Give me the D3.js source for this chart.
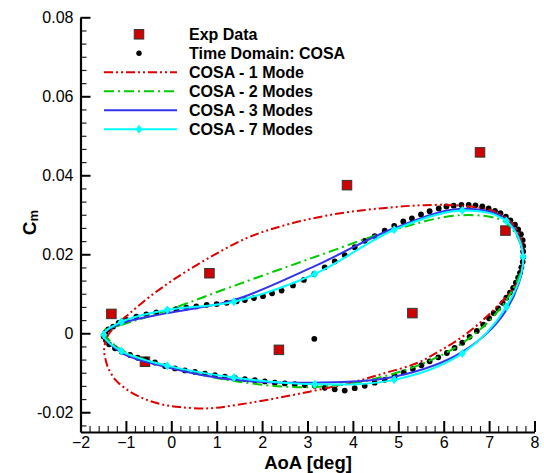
<!DOCTYPE html>
<html><head><meta charset="utf-8">
<script src="https://cdn.jsdelivr.net/npm/d3@7"></script>
<style>
body{margin:0;background:#fff}
svg{display:block}
text{font-family:"Liberation Sans",Arial,Helvetica,sans-serif;fill:#000}
</style>
</head><body>
<svg id="c" width="544" height="473"></svg>
<script>
// ---------- data ----------
const xTicks = [-2,-1,0,1,2,3,4,5,6,7,8];
const yTicks = [-0.02,0,0.02,0.04,0.06,0.08];
const yTickLabels = ["-0.02","0","0.02","0.04","0.06","0.08"];
const xTitle = "AoA [deg]";
const legendLabels = ["Exp Data","Time Domain: COSA","COSA - 1 Mode","COSA - 2 Modes","COSA - 3 Modes","COSA - 7 Modes"];

const expAoA = [-1.32,-0.58,0.84,2.37,3.87,5.31,6.80,7.36];
const expCm  = [0.0049,-0.0072,0.0152,-0.0042,0.0375,0.0051,0.0458,0.0260];

const tdAoA = [3.15,
 -1.49,-1.45,-1.39,-1.28,-1.16,-0.99,-0.77,-0.55,-0.33,-0.09,0.11,0.33,0.55,0.78,1.00,1.22,1.44,1.62,1.82,2.02,
 2.22,2.43,2.68,2.92,3.15,3.38,3.60,3.82,4.04,4.26,4.48,4.70,4.91,5.11,5.30,5.50,5.69,5.89,6.06,6.22,
 6.39,6.55,6.70,6.85,6.99,7.13,7.25,7.37,7.47,7.57,7.64,7.70,7.74,7.75,7.75,7.75,
 7.74,7.71,7.68,7.64,7.59,7.53,7.46,7.38,7.30,7.20,7.10,7.00,6.87,6.73,6.57,6.41,6.24,6.07,5.88,5.69,
 5.51,5.32,5.12,4.92,4.70,4.48,4.26,4.04,3.82,3.60,3.38,3.16,2.94,2.72,2.50,2.28,2.06,1.84,1.62,1.40,
 1.18,0.96,0.74,0.52,0.30,0.08,-0.14,-0.36,-0.56,-0.74,-0.91,-1.09,-1.24,-1.37,-1.44];
const tdCm = [-0.0014,
 -0.0008,0.0002,0.0010,0.0017,0.0026,0.0034,0.0042,0.0048,0.0053,0.0057,0.0061,0.0065,0.0068,0.0072,0.0074,0.0077,0.0081,0.0084,0.0089,0.0094,
 0.0101,0.0108,0.0121,0.0135,0.0150,0.0167,0.0182,0.0198,0.0218,0.0234,0.0246,0.0260,0.0272,0.0283,0.0291,0.0301,0.0309,0.0316,0.0321,0.0323,
 0.0325,0.0325,0.0324,0.0321,0.0316,0.0310,0.0304,0.0295,0.0286,0.0275,0.0263,0.0251,0.0236,0.0221,0.0207,0.0193,
 0.0181,0.0167,0.0153,0.0141,0.0128,0.0115,0.0103,0.0090,0.0077,0.0063,0.0051,0.0038,0.0022,0.0006,-0.0009,-0.0024,-0.0037,-0.0050,-0.0061,-0.0071,
 -0.0081,-0.0090,-0.0099,-0.0108,-0.0118,-0.0125,-0.0133,-0.0139,-0.0145,-0.0142,-0.0138,-0.0133,-0.0131,-0.0129,-0.0127,-0.0125,-0.0122,-0.0119,-0.0116,-0.0113,
 -0.0110,-0.0106,-0.0102,-0.0098,-0.0094,-0.0089,-0.0083,-0.0074,-0.0067,-0.0062,-0.0055,-0.0047,-0.0038,-0.0028,-0.0018];

const mode1AoA = [-1.48,-1.41,-1.22,-0.91,-0.47,0.04,0.80,1.66,2.39,3.12,3.84,4.59,5.32,6.06,6.57,7.02,7.38,7.61,7.73,7.75,
 7.67,7.38,6.87,6.41,5.91,5.40,4.67,3.93,3.12,2.10,1.40,0.85,0.19,-0.25,-0.62,-0.96,-1.23,-1.39,-1.44];
const mode1Cm = [-0.0042,-0.0009,0.0020,0.0051,0.0093,0.0135,0.0189,0.0241,0.0270,0.0291,0.0306,0.0316,0.0323,0.0325,0.0321,0.0312,0.0292,0.0262,0.0224,0.0181,
 0.0137,0.0093,0.0034,-0.0009,-0.0045,-0.0076,-0.0102,-0.0126,-0.0146,-0.0169,-0.0182,-0.0190,-0.0187,-0.0179,-0.0165,-0.0144,-0.0118,-0.0088,-0.0070];

const hbAoA = [-1.49,-1.10,-0.09,1.38,3.16,4.91,6.41,7.38,7.75,7.38,6.41,4.91,3.16,1.38,-0.09,-1.10];
const mode2Cm = [0.0005,0.0021,0.0058,0.0120,0.0193,0.0262,0.0299,0.0279,0.0193,0.0084,-0.0025,-0.0102,-0.0136,-0.0121,-0.0083,-0.0042];
const mode3Cm = [-0.0002,0.0025,0.0051,0.0084,0.0170,0.0266,0.0315,0.0287,0.0194,0.0059,-0.0047,-0.0110,-0.0125,-0.0118,-0.0086,-0.0049];
const mode7Cm = [-0.0004,0.0029,0.0059,0.0080,0.0150,0.0262,0.0311,0.0284,0.0194,0.0067,-0.0051,-0.0118,-0.0129,-0.0112,-0.0082,-0.0045];

// ---------- chart ----------
const svg = d3.select("#c");
const x = d3.scaleLinear().domain([-2, 8]).range([80.5, 534.5]);
const y = d3.scaleLinear().domain([-0.025, 0.08]).range([432, 17.3]);

const RED = "#dd0000", GREEN = "#00cc00", BLUE = "#3333ee", CYAN = "#00ffff";

// minor ticks
const xMinor = d3.range(-2, 8.0001, 0.2).filter(v => Math.abs(v - Math.round(v)) > 1e-6);
const yMinor = d3.range(0, 300).map(i => -0.02 - 0.02/6 + i*0.02/6).filter(v => v <= 0.08 + 1e-9 && v >= -0.025 && Math.abs(v/0.02 - Math.round(v/0.02)) > 1e-4);

const gxm = svg.append("g").attr("transform", `translate(0,${y.range()[0]})`)
  .call(d3.axisBottom(x).tickValues(xMinor).tickSize(-6).tickSizeOuter(0).tickFormat(""));
const gym = svg.append("g").attr("transform", `translate(${x.range()[0]},0)`)
  .call(d3.axisLeft(y).tickValues(yMinor).tickSize(-6).tickSizeOuter(0).tickFormat(""));
[gxm, gym].forEach(g => { g.select(".domain").remove(); g.selectAll("line").attr("stroke","#222").attr("stroke-width",1.2); });

const gx = svg.append("g").attr("transform", `translate(0,${y.range()[0]})`)
  .call(d3.axisBottom(x).tickValues(xTicks).tickSize(-11).tickSizeOuter(0).tickPadding(5).tickFormat(d3.format("d")));
const gy = svg.append("g").attr("transform", `translate(${x.range()[0]},0)`)
  .call(d3.axisLeft(y).tickValues(yTicks).tickSize(-10).tickSizeOuter(0).tickPadding(7).tickFormat((d,i) => yTickLabels[i]));
[gx, gy].forEach(g => {
  g.select(".domain").attr("stroke","#000").attr("stroke-width",2.2);
  g.selectAll(".tick line").attr("stroke","#000").attr("stroke-width",2);
  g.selectAll(".tick text").attr("font-size",16).attr("font-family",'"Liberation Sans",Arial,sans-serif').attr("fill","#000");
});

// axis titles
svg.append("text").attr("x", 308).attr("y", 469).attr("text-anchor","middle")
  .attr("font-size",18.5).attr("font-weight","bold").text(xTitle);
const yl = svg.append("text").attr("transform","translate(36,222.7) rotate(-90)").attr("text-anchor","middle")
  .attr("font-size",19).attr("font-weight","bold");
yl.append("tspan").text("C");
yl.append("tspan").attr("font-size",13).attr("dy",2).text("m");

// plotting helpers
const closedLine = d3.line().x(d => x(d[0])).y(d => y(d[1])).curve(d3.curveCatmullRomClosed.alpha(0.5));
const zip = (a,b) => a.map((v,i) => [v,b[i]]);

// Exp data squares
const sq = 9.5;
svg.append("g").selectAll("rect").data(zip(expAoA, expCm)).join("rect")
  .attr("x", d => x(d[0]) - sq/2).attr("y", d => y(d[1]) - sq/2)
  .attr("width", sq).attr("height", sq)
  .attr("fill", "#d00000").attr("stroke", "#333").attr("stroke-width", 1);

// Time domain dots
svg.append("g").selectAll("circle").data(zip(tdAoA, tdCm)).join("circle")
  .attr("cx", d => x(d[0])).attr("cy", d => y(d[1])).attr("r", 2.9).attr("fill","#000");

// lines
svg.append("path").attr("d", closedLine(zip(mode1AoA, mode1Cm))).attr("fill","none")
  .attr("stroke", RED).attr("stroke-width", 2).attr("stroke-dasharray","9,3,2,3,2,3");
svg.append("path").attr("d", closedLine(zip(hbAoA, mode2Cm))).attr("fill","none")
  .attr("stroke", GREEN).attr("stroke-width", 2).attr("stroke-dasharray","10,4,2,4");
svg.append("path").attr("d", closedLine(zip(hbAoA, mode3Cm))).attr("fill","none")
  .attr("stroke", BLUE).attr("stroke-width", 2);
svg.append("path").attr("d", closedLine(zip(hbAoA, mode7Cm))).attr("fill","none")
  .attr("stroke", CYAN).attr("stroke-width", 2);

const diamond = (cx, cy) => `M${cx},${cy-4.5}L${cx+3.5},${cy}L${cx},${cy+4.5}L${cx-3.5},${cy}Z`;
svg.append("g").selectAll("path").data(zip(hbAoA, mode7Cm)).join("path")
  .attr("d", d => diamond(x(d[0]), y(d[1]))).attr("fill", CYAN);

// legend
const lg = svg.append("g");
const rowY = i => 34.3 + i*19.0;
const symX = 139, lx0 = 104, lx1 = 177, tx = 189;
lg.append("rect").attr("x", symX - sq/2).attr("y", rowY(0) - sq/2).attr("width", sq).attr("height", sq)
  .attr("fill","#d00000").attr("stroke","#333").attr("stroke-width",1);
lg.append("circle").attr("cx", symX).attr("cy", rowY(1)).attr("r", 2.7).attr("fill","#000");
const legLines = [[RED,"9,3,2,3,2,3"],[GREEN,"10,4,2,4"],[BLUE,null],[CYAN,null]];
legLines.forEach((s, k) => {
  const l = lg.append("line").attr("x1", lx0).attr("x2", lx1).attr("y1", rowY(k+2)).attr("y2", rowY(k+2))
    .attr("stroke", s[0]).attr("stroke-width", 2);
  if (s[1]) l.attr("stroke-dasharray", s[1]);
});
lg.append("path").attr("d", diamond(symX, rowY(5))).attr("fill", CYAN);
legendLabels.forEach((t, i) => {
  lg.append("text").attr("x", tx).attr("y", rowY(i) + 5.5).attr("font-size", 16).attr("font-weight","bold").text(t);
});
</script>
</body></html>
